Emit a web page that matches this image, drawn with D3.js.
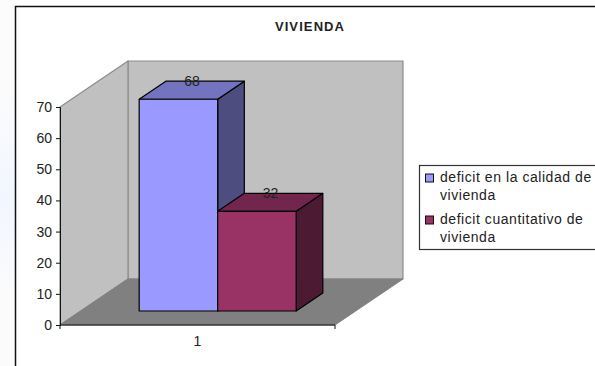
<!DOCTYPE html>
<html>
<head>
<meta charset="utf-8">
<script src="https://cdnjs.cloudflare.com/ajax/libs/d3/7.8.5/d3.min.js"></script>
<style>
html, body { margin: 0; padding: 0; background: #fff; }
svg { display: block; }
text { font-family: "Liberation Sans", Arial, sans-serif; fill: #222; }
</style>
</head>
<body>
<div id="chart"></div>
<script>
const categories = ['1']
const seriesNames = [
  ['deficit en la calidad de', 'vivienda'],
  ['deficit cuantitativo de', 'vivienda']
]
const seriesValues = [68, 32]
const yTicks = [0, 10, 20, 30, 40, 50, 60, 70]
const titleText = 'VIVIENDA'

const width = 595,
      height = 366,
      labelSize = 14

const svg = d3.select('#chart')
  .append('svg')
  .attr('width', width)
  .attr('height', height)

// pale page tint left of the chart, strongest around the middle
const tint = svg.append('defs').append('linearGradient')
  .attr('id', 'pageTint')
  .attr('x1', 0).attr('y1', 0)
  .attr('x2', 0).attr('y2', 1)
tint.append('stop').attr('offset', '0.2').attr('stop-color', '#fcfcfc')
tint.append('stop').attr('offset', '0.55').attr('stop-color', '#f2f6ff')
tint.append('stop').attr('offset', '0.8').attr('stop-color', '#fbfbfb')

svg.append('rect')
  .attr('x', 0).attr('y', 0)
  .attr('width', 15).attr('height', height)
  .attr('fill', 'url(#pageTint)')

// chart frame
svg.append('rect')
  .attr('x', 15.5).attr('y', 6.5)
  .attr('width', 600).attr('height', 400)
  .attr('fill', '#fff')
  .attr('stroke', '#111')
  .attr('stroke-width', 1.5)

svg.append('text')
  .attr('x', 310).attr('y', 31)
  .attr('text-anchor', 'middle')
  .attr('font-size', 13)
  .attr('font-weight', 'bold')
  .attr('letter-spacing', 1.1)
  .text(titleText)

const yScale = d3.scaleLinear().domain([0, 70]).range([325, 107])
const xScale = d3.scaleBand().domain(categories).range([60, 335])
const xSeries = d3.scaleBand().domain(d3.range(seriesValues.length))
  .range([xScale(categories[0]) + 58.5, xScale(categories[0]) + xScale.bandwidth() - 59.5])

// oblique projection: depth 0 is the front of the floor, 1 the back wall
const depthX = 68,
      depthY = 46
const project = (x, y, t) => [x + depthX * t, y - depthY * t]
const poly = (pts, fill, stroke, sw) => svg.append('polygon')
  .attr('points', pts.map(p => p.join(',')).join(' '))
  .attr('fill', fill)
  .attr('stroke', stroke)
  .attr('stroke-width', sw)
  .attr('stroke-linejoin', 'round')

const x0 = xScale.range()[0],
      x1 = xScale.range()[1],
      yBase = yScale(0),
      yTop = yScale(70)

// walls and floor
poly([project(x0, yBase, 1), project(x1, yBase, 1), project(x1, yTop, 1), project(x0, yTop, 1)], '#c0c0c0', '#8c8c8c', 1.2)
poly([project(x0, yBase, 0), project(x0, yBase, 1), project(x0, yTop, 1), project(x0, yTop, 0)], '#c0c0c0', '#8c8c8c', 1.2)
poly([project(x0, yBase, 0), project(x1, yBase, 0), project(x1, yBase, 1), project(x0, yBase, 1)], '#808080', '#808080', 1)

// bars
const barFront = 0.304,
      barBack = 0.696
const barColors = [
  { front: '#9999ff', top: '#7373bf', side: '#4d4d80' },
  { front: '#993366', top: '#73264d', side: '#4d1a33' }
]

seriesValues.forEach((v, i) => {
  const l = xSeries(i),
        r = l + xSeries.bandwidth(),
        y = yScale(v),
        c = barColors[i]
  poly([project(r, yBase, barFront), project(r, yBase, barBack), project(r, y, barBack), project(r, y, barFront)], c.side, '#000', 1.2)
  poly([project(l, y, barFront), project(r, y, barFront), project(r, y, barBack), project(l, y, barBack)], c.top, '#000', 1.2)
  poly([project(l, yBase, barFront), project(r, yBase, barFront), project(r, y, barFront), project(l, y, barFront)], c.front, '#000', 1.2)
})

// value labels
seriesValues.forEach((v, i) => {
  const p = project(xSeries(i) + xSeries.bandwidth() / 2, yScale(v), barBack)
  svg.append('text')
    .attr('x', p[0] - 13).attr('y', p[1] + 5)
    .attr('text-anchor', 'middle')
    .attr('font-size', labelSize)
    .text(v)
})

// axes
const yAxis = svg.append('g')
  .attr('transform', `translate(${x0},0)`)
  .call(d3.axisLeft(yScale).tickValues(yTicks).tickSize(4).tickPadding(4))
yAxis.selectAll('text').attr('font-size', labelSize).attr('font-family', '"Liberation Sans", Arial, sans-serif').attr('fill', '#222')
yAxis.selectAll('line, path').attr('stroke', '#111')

const xAxis = svg.append('g')
  .attr('transform', `translate(0,${yBase})`)
  .call(d3.axisBottom(xScale).tickSize(0).tickPadding(11))
xAxis.selectAll('text').attr('font-size', labelSize).attr('font-family', '"Liberation Sans", Arial, sans-serif').attr('fill', '#222')
xAxis.select('path').attr('stroke', '#111').attr('d', `M${x0},4V0H${x1}V4`)

// legend
const legend = svg.append('g')
legend.append('rect')
  .attr('x', 419.5).attr('y', 165.5)
  .attr('width', 190).attr('height', 84)
  .attr('fill', '#fff')
  .attr('stroke', '#333')
  .attr('stroke-width', 1.2)

const legendY = [178, 220]
seriesNames.forEach((lines, i) => {
  legend.append('rect')
    .attr('x', 425.5).attr('y', legendY[i] - 4)
    .attr('width', 8).attr('height', 8)
    .attr('fill', barColors[i].front)
    .attr('stroke', '#111')
  lines.forEach((t, j) => {
    legend.append('text')
      .attr('x', 440).attr('y', legendY[i] + 4 + j * 18)
      .attr('font-size', labelSize)
      .attr('letter-spacing', 0.55)
      .text(t)
  })
})
</script>
</body>
</html>
